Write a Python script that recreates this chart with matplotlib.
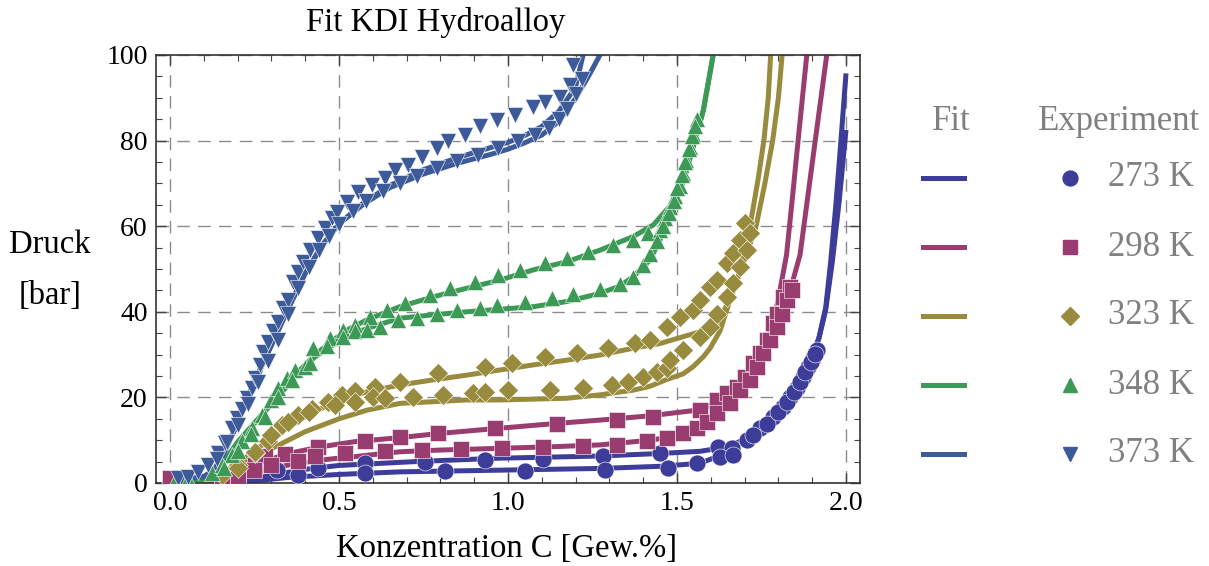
import matplotlib.pyplot as plt
from matplotlib.lines import Line2D
from matplotlib.ticker import MultipleLocator

plt.rcParams['font.family'] = ['Liberation Serif', 'DejaVu Serif']

W, H = 1209, 566

temps = ['273 K', '298 K', '323 K', '348 K', '373 K']
colors = ['#3d3d99', '#993d71', '#998b3d', '#3d9956', '#3d5a99']
markers = ['o', 's', 'D', '^', 'v']
marker_sizes = [12.2, 11, 10, 11.5, 11.5]

# Fit curves: absorption (upper) and desorption (lower) branch, concentration in Gew.% and pressure in bar
fit_273_abs_c = [0.0, 0.15, 0.23, 0.3, 0.4, 0.5, 0.6, 0.725, 0.976, 1.272, 1.45, 1.568, 1.63, 1.68, 1.72, 1.76,
                 1.8, 1.84, 1.87, 1.9, 1.92, 1.94, 1.955, 1.97, 1.985, 2.0]
fit_273_abs_p = [0.1, 0.2, 0.7, 1.8, 3.2, 4.1, 4.5, 5.0, 5.8, 6.3, 6.9, 7.4, 8.2, 9.5, 11.0, 13.0,
                 16.0, 20.5, 25.0, 29.5, 34.0, 41.0, 52.0, 65.0, 80.0, 95.7]
fit_273_des_c = [0.0, 0.15, 0.25, 0.35, 0.5, 0.68, 0.976, 1.272, 1.45, 1.568, 1.63, 1.68, 1.72, 1.76, 1.8,
                 1.84, 1.87, 1.9, 1.92, 1.94, 1.96, 1.98, 2.0]
fit_273_des_p = [0.1, 0.1, 0.5, 1.3, 2.0, 2.6, 3.0, 3.4, 3.9, 4.6, 6.5, 8.8, 10.7, 12.8, 15.8,
                 20.3, 24.8, 29.3, 33.8, 40.5, 52.0, 66.0, 82.5]

fit_298_abs_c = [0.0, 0.1, 0.15, 0.2, 0.25, 0.3, 0.35, 0.45, 0.55, 0.68, 0.8, 0.976, 1.14, 1.272, 1.42, 1.568,
                 1.62, 1.667, 1.7, 1.73, 1.76, 1.78, 1.8, 1.824, 1.84, 1.858, 1.872, 1.884]
fit_298_abs_p = [0.2, 0.3, 0.7, 1.9, 3.8, 5.6, 6.9, 8.5, 9.7, 10.6, 11.6, 12.8, 13.9, 14.7, 15.7, 17.1,
                 18.8, 20.8, 23.3, 27.2, 32.0, 36.5, 43.0, 53.3, 65.5, 79.8, 90.7, 100.0]
fit_298_des_c = [0.0, 0.1, 0.15, 0.2, 0.25, 0.3, 0.35, 0.45, 0.55, 0.68, 0.8, 0.976, 1.14, 1.272, 1.42, 1.47,
                 1.519, 1.568, 1.617, 1.66, 1.696, 1.72, 1.746, 1.765, 1.785, 1.815, 1.84, 1.864, 1.909, 1.943]
fit_298_des_p = [0.2, 0.2, 0.5, 1.2, 2.3, 3.3, 4.2, 5.4, 6.2, 7.3, 7.7, 8.1, 8.5, 8.9, 10.0, 10.6,
                 12.0, 13.8, 16.3, 19.5, 22.5, 25.0, 28.5, 31.5, 35.0, 39.5, 46.5, 53.3, 80.0, 100.0]

fit_323_abs_c = [0.0, 0.1, 0.15, 0.2, 0.25, 0.3, 0.35, 0.4, 0.45, 0.5, 0.582, 0.68, 0.779, 0.878, 0.976, 1.075,
                 1.174, 1.272, 1.371, 1.45, 1.519, 1.587, 1.62, 1.65, 1.686, 1.716, 1.74, 1.757, 1.77, 1.777]
fit_323_abs_p = [0.2, 0.5, 2.0, 4.5, 7.5, 10.5, 13.0, 15.5, 17.5, 19.2, 21.3, 22.9, 24.1, 25.2, 26.4, 27.6,
                 28.7, 29.9, 31.5, 32.6, 34.2, 35.8, 37.5, 42.0, 49.5, 60.0, 71.0, 80.0, 90.0, 100.0]
fit_323_des_c = [0.0, 0.1, 0.15, 0.2, 0.25, 0.3, 0.35, 0.4, 0.45, 0.5, 0.582, 0.68, 0.779, 0.878, 0.976, 1.075,
                 1.174, 1.272, 1.371, 1.42, 1.47, 1.518, 1.548, 1.578, 1.598, 1.627, 1.657, 1.69, 1.734, 1.76,
                 1.783, 1.8, 1.811]
fit_323_des_p = [0.2, 0.5, 1.8, 3.8, 5.8, 8.0, 10.0, 12.0, 13.5, 15.0, 17.0, 18.6, 19.0, 19.4, 19.4, 19.6,
                 19.8, 20.6, 21.7, 22.6, 24.2, 25.5, 27.2, 29.5, 31.5, 35.5, 42.8, 50.0, 60.0, 70.0,
                 80.0, 90.0, 100.0]

fit_348_abs_c = [0.0, 0.08, 0.12, 0.16, 0.2, 0.25, 0.3, 0.35, 0.385, 0.43, 0.483, 0.53, 0.582, 0.68, 0.779, 0.878,
                 0.976, 1.075, 1.174, 1.272, 1.371, 1.43, 1.469, 1.5, 1.52, 1.548, 1.578, 1.607]
fit_348_abs_p = [0.2, 0.4, 1.5, 5.0, 9.5, 14.0, 18.5, 23.0, 26.4, 30.0, 33.4, 36.0, 38.1, 41.2, 43.5, 45.5,
                 47.4, 49.8, 51.7, 54.4, 57.6, 60.3, 63.8, 66.5, 70.8, 78.6, 87.1, 100.0]
fit_348_des_c = [0.0, 0.08, 0.12, 0.16, 0.2, 0.25, 0.3, 0.35, 0.385, 0.43, 0.483, 0.53, 0.582, 0.68, 0.779, 0.878,
                 0.976, 1.075, 1.174, 1.272, 1.33, 1.371, 1.42, 1.45, 1.469, 1.489, 1.52, 1.548, 1.578, 1.607]
fit_348_des_p = [0.2, 0.4, 1.5, 5.0, 9.5, 14.0, 18.5, 23.0, 26.4, 29.5, 32.3, 34.4, 36.1, 38.5, 39.3, 40.0,
                 40.6, 41.2, 42.4, 44.3, 46.0, 48.2, 52.1, 56.8, 61.4, 66.0, 70.8, 78.6, 87.1, 100.0]

fit_373_abs_c = [0.0, 0.05, 0.1, 0.13, 0.16, 0.2, 0.25, 0.3, 0.35, 0.4, 0.45, 0.5, 0.57, 0.65, 0.75, 0.85,
                 0.95, 1.0, 1.05, 1.1, 1.15, 1.2, 1.222]
fit_373_abs_p = [0.8, 0.9, 1.5, 3.0, 7.0, 14.0, 23.7, 32.2, 40.8, 49.0, 55.5, 60.5, 65.3, 69.5, 73.2, 76.0,
                 78.4, 79.6, 81.2, 83.3, 86.8, 92.5, 100.0]
fit_373_des_c = [0.0, 0.05, 0.1, 0.13, 0.16, 0.2, 0.25, 0.3, 0.35, 0.4, 0.45, 0.5, 0.57, 0.65, 0.75, 0.85,
                 0.95, 1.0, 1.05, 1.1, 1.15, 1.2, 1.24, 1.272]
fit_373_des_p = [0.8, 0.9, 1.5, 3.0, 7.0, 14.0, 23.7, 32.2, 40.8, 49.0, 55.5, 60.5, 65.0, 69.0, 72.2, 74.7,
                 76.8, 78.0, 79.5, 81.3, 84.5, 89.9, 95.3, 100.0]

# Measured points
exp_273_abs_c = [0.316, 0.439, 0.577, 0.754, 0.932, 1.105, 1.282, 1.45, 1.622, 1.662, 1.706, 1.746, 1.785,
                 1.815, 1.834, 1.854, 1.874, 1.888, 1.903, 1.913]
exp_273_abs_p = [3.0, 3.6, 4.6, 4.9, 5.4, 5.7, 6.3, 6.9, 8.5, 8.1, 10.0, 12.8, 15.5,
                 17.8, 20.2, 22.1, 24.8, 27.2, 29.1, 31.1]
exp_273_des_c = [0.0, 0.38, 0.577, 0.814, 1.05, 1.287, 1.474, 1.558, 1.627, 1.667, 1.725, 1.765, 1.8,
                 1.825, 1.845, 1.864, 1.88, 1.896, 1.908]
exp_273_des_p = [0.3, 1.9, 2.3, 2.7, 2.8, 3.0, 3.6, 4.6, 6.0, 6.6, 11.2, 13.8, 16.5,
                 19.0, 21.2, 23.5, 26.0, 28.3, 30.2]

exp_298_abs_c = [0.0, 0.153, 0.2, 0.251, 0.281, 0.34, 0.439, 0.577, 0.68, 0.794, 0.962, 1.144, 1.321, 1.43,
                 1.568, 1.617, 1.647, 1.677, 1.701, 1.726, 1.746, 1.765, 1.785, 1.795, 1.815, 1.834]
exp_298_abs_p = [1.1, 1.1, 2.3, 4.2, 6.2, 6.7, 8.5, 9.7, 10.8, 11.6, 12.8, 13.9, 14.7, 15.5,
                 17.1, 19.4, 21.0, 22.5, 24.8, 28.0, 30.3, 33.4, 37.3, 39.6, 43.5, 45.9]
exp_298_des_c = [0.2, 0.25, 0.3, 0.38, 0.429, 0.518, 0.636, 0.745, 0.862, 0.981, 1.105, 1.223, 1.321, 1.41,
                 1.469, 1.519, 1.558, 1.59, 1.617, 1.657, 1.686, 1.716, 1.736, 1.755, 1.775, 1.795, 1.81,
                 1.824, 1.839]
exp_298_des_p = [1.5, 3.0, 4.2, 5.2, 6.2, 6.9, 7.5, 7.7, 8.0, 8.1, 8.4, 8.6, 8.9, 9.7,
                 10.4, 11.6, 12.8, 14.3, 16.3, 18.6, 21.7, 24.1, 27.2, 30.3, 33.4, 36.5, 39.6,
                 42.8, 45.1]

exp_323_abs_c = [0.153, 0.2, 0.251, 0.291, 0.33, 0.38, 0.42, 0.468, 0.508, 0.547, 0.607, 0.68, 0.794, 0.932,
                 1.011, 1.109, 1.203, 1.297, 1.376, 1.42, 1.469, 1.509, 1.548, 1.568, 1.598, 1.617, 1.647,
                 1.667, 1.686, 1.701]
exp_323_abs_p = [1.9, 4.2, 7.0, 9.7, 13.6, 15.9, 17.4, 19.0, 20.6, 21.5, 22.5, 23.7, 25.6, 27.2,
                 28.0, 29.5, 30.3, 31.5, 32.6, 33.4, 36.5, 38.9, 40.4, 42.8, 45.9, 47.4, 51.3,
                 53.7, 56.8, 60.7]
exp_323_des_c = [0.2, 0.251, 0.3, 0.35, 0.41, 0.488, 0.547, 0.602, 0.636, 0.72, 0.809, 0.897, 0.932, 1.0,
                 1.124, 1.223, 1.307, 1.356, 1.4, 1.44, 1.469, 1.479, 1.519, 1.568, 1.598, 1.617, 1.647,
                 1.667, 1.686, 1.706, 1.716]
exp_323_des_p = [3.5, 7.3, 11.2, 14.3, 16.7, 18.2, 19.0, 20.2, 19.8, 20.2, 20.6, 21.0, 21.3, 21.7,
                 21.7, 22.1, 22.9, 23.7, 24.8, 26.0, 26.8, 28.7, 31.1, 34.2, 36.5, 39.6, 43.5,
                 46.7, 50.5, 54.4, 58.3]

exp_348_abs_c = [0.015, 0.054, 0.123, 0.153, 0.182, 0.212, 0.242, 0.271, 0.3, 0.32, 0.345, 0.37, 0.424, 0.473,
                 0.513, 0.547, 0.592, 0.641, 0.695, 0.769, 0.828, 0.902, 0.971, 1.036, 1.11, 1.174, 1.238,
                 1.312, 1.371, 1.415, 1.45, 1.465, 1.479, 1.494, 1.509, 1.519, 1.528, 1.538, 1.548, 1.558]
exp_348_abs_p = [0.5, 1.0, 2.3, 4.2, 6.5, 9.7, 12.8, 15.9, 19.4, 22.1, 24.5, 26.4, 31.5, 33.8,
                 35.7, 36.9, 38.9, 40.4, 42.0, 43.9, 45.5, 47.0, 48.6, 49.8, 51.3, 52.5, 54.0,
                 55.6, 56.8, 58.3, 59.1, 62.0, 64.5, 67.0, 69.5, 72.5, 75.5, 78.5, 81.5, 85.0]
exp_348_des_c = [0.16, 0.2, 0.24, 0.28, 0.32, 0.36, 0.4, 0.414, 0.464, 0.513, 0.547, 0.582, 0.621, 0.675,
                 0.73, 0.789, 0.848, 0.917, 0.966, 1.05, 1.129, 1.193, 1.272, 1.331, 1.37, 1.4, 1.42,
                 1.44, 1.46, 1.475, 1.49, 1.5, 1.515, 1.525, 1.535, 1.545, 1.552]
exp_348_des_p = [3.5, 7.5, 11.5, 15.5, 20.0, 24.0, 27.0, 28.0, 31.9, 34.2, 35.4, 35.7, 36.5, 38.0,
                 38.5, 39.6, 40.4, 41.0, 41.5, 42.3, 43.2, 44.1, 45.3, 46.5, 48.2, 51.0, 53.5,
                 56.5, 60.0, 63.0, 66.0, 69.0, 72.0, 75.0, 78.0, 81.0, 83.5]

exp_373_abs_c = [0.025, 0.054, 0.084, 0.113, 0.143, 0.163, 0.182, 0.197, 0.212, 0.227, 0.242, 0.251, 0.266,
                 0.276, 0.291, 0.306, 0.32, 0.335, 0.35, 0.365, 0.38, 0.394, 0.414, 0.439, 0.459, 0.478,
                 0.493, 0.523, 0.557, 0.597, 0.636, 0.666, 0.705, 0.745, 0.789, 0.823, 0.873, 0.917,
                 0.966, 1.021, 1.075, 1.109, 1.154, 1.183, 1.193]
exp_373_abs_p = [1.1, 1.5, 2.6, 4.2, 6.9, 9.3, 12.8, 15.1, 17.4, 19.8, 22.1, 24.5, 27.6,
                 30.7, 33.0, 35.4, 37.7, 40.8, 42.8, 47.0, 49.4, 51.7, 54.4, 57.2, 59.5, 61.8,
                 63.4, 65.7, 68.1, 69.6, 71.2, 73.1, 74.3, 76.2, 78.2, 79.8, 81.3, 83.3,
                 84.8, 86.0, 87.9, 89.1, 90.3, 93.0, 97.7]
exp_373_des_c = [0.14, 0.17, 0.2, 0.23, 0.26, 0.29, 0.32, 0.35, 0.38, 0.41, 0.44, 0.47, 0.5, 0.54, 0.58,
                 0.63, 0.68, 0.73, 0.79, 0.85, 0.91, 0.97, 1.03, 1.08, 1.12, 1.15, 1.175, 1.2, 1.22]
exp_373_des_p = [5.5, 9.5, 13.5, 18.5, 23.5, 28.5, 33.5, 39.5, 45.5, 50.5, 54.5, 57.8, 60.5, 63.5, 66.0,
                 68.3, 70.2, 71.8, 73.5, 75.2, 76.6, 78.2, 79.8, 81.2, 83.0, 85.0, 87.5, 91.0, 94.5]

fits = [
    [(fit_273_abs_c, fit_273_abs_p), (fit_273_des_c, fit_273_des_p)],
    [(fit_298_abs_c, fit_298_abs_p), (fit_298_des_c, fit_298_des_p)],
    [(fit_323_abs_c, fit_323_abs_p), (fit_323_des_c, fit_323_des_p)],
    [(fit_348_abs_c, fit_348_abs_p), (fit_348_des_c, fit_348_des_p)],
    [(fit_373_abs_c, fit_373_abs_p), (fit_373_des_c, fit_373_des_p)],
]
exps = [
    [(exp_273_abs_c, exp_273_abs_p), (exp_273_des_c, exp_273_des_p)],
    [(exp_298_abs_c, exp_298_abs_p), (exp_298_des_c, exp_298_des_p)],
    [(exp_323_abs_c, exp_323_abs_p), (exp_323_des_c, exp_323_des_p)],
    [(exp_348_abs_c, exp_348_abs_p), (exp_348_des_c, exp_348_des_p)],
    [(exp_373_abs_c, exp_373_abs_p), (exp_373_des_c, exp_373_des_p)],
]

fig = plt.figure(figsize=(W / 100, H / 100), dpi=100)
ax = fig.add_axes([156 / W, 1 - 483 / H, 704 / W, 428 / H])

for i in range(len(temps)):
    for c, p in fits[i]:
        ax.plot(c, p, color=colors[i], lw=3.6, solid_joinstyle='round', solid_capstyle='butt', zorder=2)
for i in range(len(temps)):
    for c, p in exps[i]:
        ax.plot(c, p, ls='none', marker=markers[i], ms=marker_sizes[i], color=colors[i],
                mec='white', mew=0.4, zorder=3)

ax.set_xlim(-0.0414, 2.0414)
ax.set_ylim(0, 100)
ax.set_xticks([0, 0.5, 1.0, 1.5, 2.0])
ax.set_xticklabels(['0.0', '0.5', '1.0', '1.5', '2.0'])
ax.set_yticks([0, 20, 40, 60, 80, 100])
ax.xaxis.set_minor_locator(MultipleLocator(0.1))
ax.yaxis.set_minor_locator(MultipleLocator(5))
ax.tick_params(which='both', direction='in', top=True, right=True, color='#444444')
ax.tick_params(which='major', length=7, width=1, labelsize=20, pad=6)
ax.tick_params(which='minor', length=4, width=0.8)
ax.grid(True, which='major', ls=(0, (9, 6)), color='#8c8c8c', lw=1, zorder=0)
for s in ax.spines.values():
    s.set_color('#333333')
    s.set_linewidth(1.2)

fig.text(436 / W, 1 - 22 / H, 'Fit KDI Hydroalloy', ha='center', va='center', fontsize=23.5)
fig.text(50 / W, 1 - 245 / H, 'Druck', ha='center', va='center', fontsize=23.5)
fig.text(50 / W, 1 - 296 / H, '[bar]', ha='center', va='center', fontsize=23.5)
fig.text(507 / W, 1 - 549 / H, 'Konzentration C [Gew.%]', ha='center', va='center', fontsize=23.5)

# legend drawn by hand: fit lines on the left, measured markers with labels on the right
grey = '#808080'
fig.text(951 / W, 1 - 122 / H, 'Fit', ha='center', va='center', fontsize=25, color=grey)
fig.text(1119 / W, 1 - 122 / H, 'Experiment', ha='center', va='center', fontsize=25, color=grey)
for i in range(len(temps)):
    y = 1 - (178 + 69 * i) / H
    fig.add_artist(Line2D([923 / W, 964 / W], [y, y], color=colors[i], lw=3.6, transform=fig.transFigure))
    fig.add_artist(Line2D([1070 / W], [y], ls='none', marker=markers[i], ms=marker_sizes[i] * 0.88,
                          color=colors[i], transform=fig.transFigure))
    fig.text(1108 / W, y, temps[i], ha='left', va='center', fontsize=25, color=grey)

fig.savefig('out.png', dpi=100)
